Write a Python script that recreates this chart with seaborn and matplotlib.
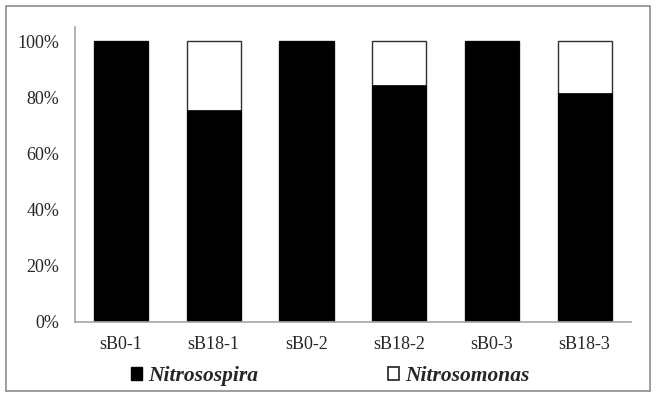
import matplotlib
matplotlib.use("Agg")
import matplotlib.pyplot as plt
import matplotlib.patches as mpatches
from matplotlib.ticker import PercentFormatter
import pandas as pd
import seaborn as sns

# ------------ Data (relative abundance, %) ------------
samples = ["sB0-1", "sB18-1", "sB0-2", "sB18-2", "sB0-3", "sB18-3"]
nitrosospira = [100.0, 75.3, 100.0, 84.5, 100.0, 81.6]
nitrosomonas = [0.0, 24.7, 0.0, 15.5, 0.0, 18.4]

df = pd.DataFrame({
    "sample": samples,
    "Nitrosospira": [v / 100 for v in nitrosospira],
    "Nitrosomonas": [v / 100 for v in nitrosomonas],
})
df["total"] = df["Nitrosospira"] + df["Nitrosomonas"]

# ------------ Style ------------
sns.set_style("white")
plt.rcParams["font.family"] = ["Liberation Serif", "DejaVu Serif"]

fig = plt.figure(figsize=(6.58, 4.01), dpi=100)
ax = fig.add_axes([74.6 / 658, 1 - 322 / 401, (631 - 74.6) / 658, (322 - 27) / 401])

# stacked bars: white total bar underneath, black Nitrosospira on top
sns.barplot(data=df, x="sample", y="total", color="white", edgecolor="#303030",
            linewidth=1.0, width=0.585, ax=ax, saturation=1)
sns.barplot(data=df, x="sample", y="Nitrosospira", color="black", edgecolor="black",
            linewidth=0.5, width=0.585, ax=ax, saturation=1)

ax.set_ylim(0, 1.05)
ax.set_yticks([0, 0.2, 0.4, 0.6, 0.8, 1.0])
ax.yaxis.set_major_formatter(PercentFormatter(1.0, decimals=0))
ax.set_xlabel("")
ax.set_ylabel("")
ax.tick_params(axis="both", length=0, labelsize=13)
ax.tick_params(axis="y", pad=11)
ax.tick_params(axis="x", pad=10)

for side in ["top", "right"]:
    ax.spines[side].set_visible(False)
for side in ["left", "bottom"]:
    ax.spines[side].set_color("#a6a6a6")
    ax.spines[side].set_linewidth(1.2)

# legend below the axis
handles = [
    mpatches.Patch(facecolor="black", edgecolor="black", label="Nitrosospira"),
    mpatches.Patch(facecolor="white", edgecolor="#202020", linewidth=1.2, label="Nitrosomonas"),
]
fig.legend(handles=handles, loc="center", bbox_to_anchor=(0.502, 1 - 376 / 401),
           ncol=2, frameon=False, handlelength=0.52, handleheight=0.52,
           handletextpad=0.3, columnspacing=6.0,
           prop={"family": "Liberation Serif", "style": "italic", "weight": "bold", "size": 15.5})

# outer frame around the whole chart
frame = mpatches.Rectangle((5.5 / 658, 1 - 391 / 401), (650 - 5.5) / 658, (391 - 6) / 401,
                           transform=fig.transFigure, fill=False,
                           edgecolor="#8c8c8c", linewidth=1.2)
fig.patches.append(frame)

fig.savefig("out.png", dpi=100)
